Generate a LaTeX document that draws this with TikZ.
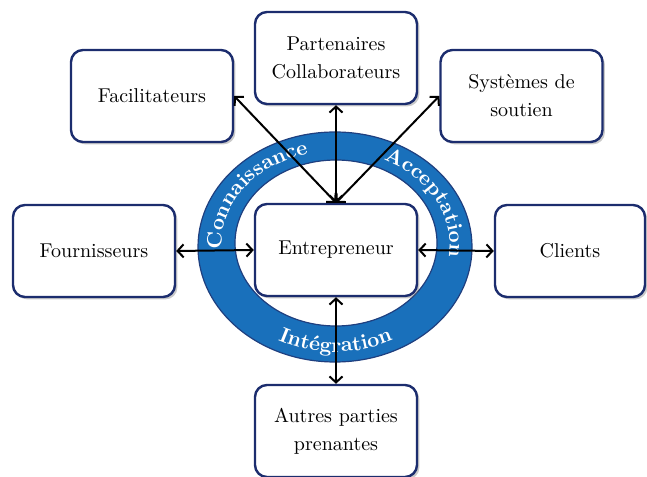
\documentclass[tikz,border=0pt]{standalone}
\usetikzlibrary{shadows}
\usetikzlibrary{arrows.meta}
\usetikzlibrary{decorations.text}
\definecolor{navy}{HTML}{1C2D6E}
\definecolor{ringblue}{HTML}{1970BB}
\definecolor{ringedge}{HTML}{1F3F7F}
\tikzset{actor/.style={rectangle, rounded corners=6pt, draw=navy, line width=1.2pt,
   fill=white, minimum width=81pt, minimum height=46pt, inner sep=0pt,
   align=center, font=\fontsize{10}{14}\selectfont,
   drop shadow={shadow xshift=1.2pt, shadow yshift=-1.2pt, opacity=0.35, fill=black!60}}}
\tikzset{link/.style = {
   line width=1pt,
   {Straight Barb[length=3pt,width=6.5pt]}-{Straight Barb[length=3pt,width=6.5pt]}
}}
\tikzset{ringword/.style={decorate, decoration={text along path, text align=center,
   text={|\fontsize{10.5}{13}\bfseries\color{white}|#1}}}}

\begin{document}
\begin{tikzpicture}[x=0.5pt,y=0.5pt]

    \useasboundingbox (0,0) rectangle (647,476);

    % ring
    \fill[ringblue, draw=ringedge, line width=0.6pt, even odd rule]
       (335,229) ellipse [x radius=137, y radius=115]
       (336,233) ellipse [x radius=101, y radius=83];

    \path[ringword=Connaissance] (335.5,231) ++(205:114 and 94)
       arc[start angle=205, end angle=85, x radius=114, y radius=94];
    \path[ringword=Acceptation] (335.5,231) ++(87:114 and 94)
       arc[start angle=87, end angle=-33, x radius=114, y radius=94];
    \path[ringword=Intégration] (335.5,231) ++(215:125 and 107)
       arc[start angle=215, end angle=325, x radius=125, y radius=107];

    \node[actor] (entre)   at (336,226)   {Entrepreneur};
    \node[actor] (facil)   at (152,380)   {Facilitateurs};
    \node[actor] (parten)  at (336,418)   {Partenaires\\Collaborateurs};
    \node[actor] (syst)    at (521.5,380) {Systèmes de\\soutien};
    \node[actor] (fourn)   at (94,225)    {Fournisseurs};
    \node[actor, minimum width=75pt] (clients) at (570,225) {Clients};
    \node[actor] (autres)  at (336,45)    {Autres parties\\prenantes};

    \draw[link] (entre.north) -- (facil.east);
    \draw[link] (entre.north) -- (parten.south);
    \draw[link] (entre.north) -- (syst.west);
    \draw[link] (fourn.east) -- (entre.west);
    \draw[link] (entre.east) -- (clients.west);
    \draw[link] (entre.south) -- (autres.north);

  \end{tikzpicture}
\end{document}
